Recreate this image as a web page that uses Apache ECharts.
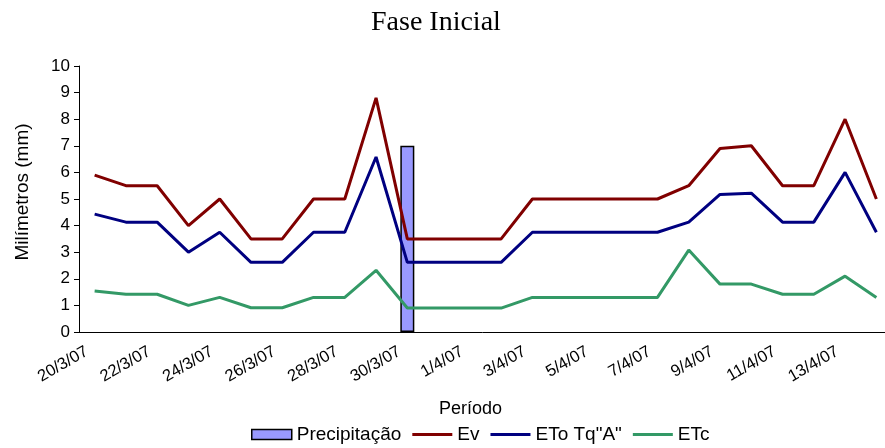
<!DOCTYPE html>
<html>
<head>
<meta charset="utf-8">
<script src="https://cdn.jsdelivr.net/npm/echarts@6/dist/echarts.min.js"></script>
<style>
  html, body { margin: 0; padding: 0; background: #fff; }
  #chart { width: 885px; height: 448px; }
</style>
</head>
<body>
<div id="chart"></div>
<script>
// daily dates, 20/3/07 .. 14/4/07
const dates = [
  '20/3/07', '21/3/07', '22/3/07', '23/3/07', '24/3/07', '25/3/07', '26/3/07',
  '27/3/07', '28/3/07', '29/3/07', '30/3/07', '31/3/07', '1/4/07', '2/4/07',
  '3/4/07', '4/4/07', '5/4/07', '6/4/07', '7/4/07', '8/4/07', '9/4/07',
  '10/4/07', '11/4/07', '12/4/07', '13/4/07', '14/4/07'
];

const precipitacao = [null, null, null, null, null, null, null, null, null, null, 7,
  null, null, null, null, null, null, null, null, null, null, null, null, null, null, null];

const ev = [5.9, 5.5, 5.5, 4.0, 5.0, 3.5, 3.5, 5.0, 5.0, 8.8, 3.5, 3.5, 3.5, 3.5,
  5.0, 5.0, 5.0, 5.0, 5.0, 5.5, 6.9, 7.0, 5.5, 5.5, 8.0, 5.0];

const eto = [4.43, 4.13, 4.13, 3.0, 3.75, 2.62, 2.62, 3.75, 3.75, 6.58, 2.62, 2.62, 2.62, 2.62,
  3.75, 3.75, 3.75, 3.75, 3.75, 4.13, 5.17, 5.22, 4.13, 4.13, 6.0, 3.75];

const etc = [1.54, 1.42, 1.42, 1.0, 1.3, 0.91, 0.91, 1.3, 1.3, 2.32, 0.9, 0.9, 0.9, 0.9,
  1.3, 1.3, 1.3, 1.3, 1.3, 3.08, 1.8, 1.8, 1.42, 1.42, 2.1, 1.3];

const yTicks = [0, 10, 1]; // min, max, step

const chart = echarts.init(document.getElementById('chart'), null, { renderer: 'canvas' });

const lineIcon = 'path://M0,0H40V3H0Z';

const lineSeries = (name, data, color) => ({
  name,
  type: 'line',
  data,
  symbol: 'none',
  lineStyle: { color, width: 3 },
  itemStyle: { color },
  z: 3
});

chart.setOption({
  animation: false,
  textStyle: { fontFamily: 'Liberation Sans, Arial, sans-serif', color: '#000' },
  title: {
    text: 'Fase Inicial',
    left: 366,
    top: 4,
    textStyle: { fontFamily: 'Liberation Serif', fontSize: 28, fontWeight: 'normal', color: '#000' }
  },
  // plot runs a little past the right edge, as in the original
  grid: { left: 79, top: 66, right: -7, bottom: 116, containLabel: false, outerBoundsMode: 'none' },
  legend: {
    bottom: -1,
    left: 246,
    itemGap: 11,
    itemWidth: 40,
    itemHeight: 10,
    textStyle: { fontSize: 19, color: '#000' },
    data: [
      { name: 'Precipitação', icon: 'rect', itemStyle: { color: '#9999ff', borderColor: '#000', borderWidth: 1.5 } },
      { name: 'Ev', icon: lineIcon },
      { name: 'ETo Tq"A"', icon: lineIcon },
      { name: 'ETc', icon: lineIcon }
    ]
  },
  xAxis: {
    type: 'category',
    data: dates,
    boundaryGap: true,
    name: 'Período',
    nameLocation: 'middle',
    nameGap: 68,
    nameTextStyle: { fontSize: 18, color: '#000', padding: [0, 30, 0, 0] },
    axisLine: { lineStyle: { color: '#000', width: 1 } },
    axisTick: { interval: 1, length: 5, lineStyle: { color: '#000' } },
    axisLabel: {
      interval: 1,
      rotate: 30,
      fontSize: 16,
      color: '#000',
      margin: 14,
      formatter: (v) => '{d|' + v + '}',
      rich: { d: { fontSize: 16.5, color: '#000', padding: [0, 9, 0, 0] } }
    }
  },
  yAxis: {
    type: 'value',
    min: yTicks[0],
    max: yTicks[1],
    interval: yTicks[2],
    name: 'Milímetros (mm)',
    nameLocation: 'middle',
    nameGap: 47,
    nameTextStyle: { fontSize: 19, color: '#000', padding: [0, 0, 0, 14] },
    axisLine: { show: true, lineStyle: { color: '#000', width: 1 } },
    axisTick: { show: true, length: 5, lineStyle: { color: '#000' } },
    axisLabel: { fontSize: 17, color: '#000', margin: 9 },
    splitLine: { show: false }
  },
  series: [
    {
      name: 'Precipitação',
      type: 'bar',
      data: precipitacao,
      barWidth: 14,
      itemStyle: { color: '#9999ff', borderColor: '#000', borderWidth: 1.5 },
      z: 2
    },
    lineSeries('Ev', ev, '#800000'),
    lineSeries('ETo Tq"A"', eto, '#000080'),
    lineSeries('ETc', etc, '#339966')
  ]
});
</script>
</body>
</html>
